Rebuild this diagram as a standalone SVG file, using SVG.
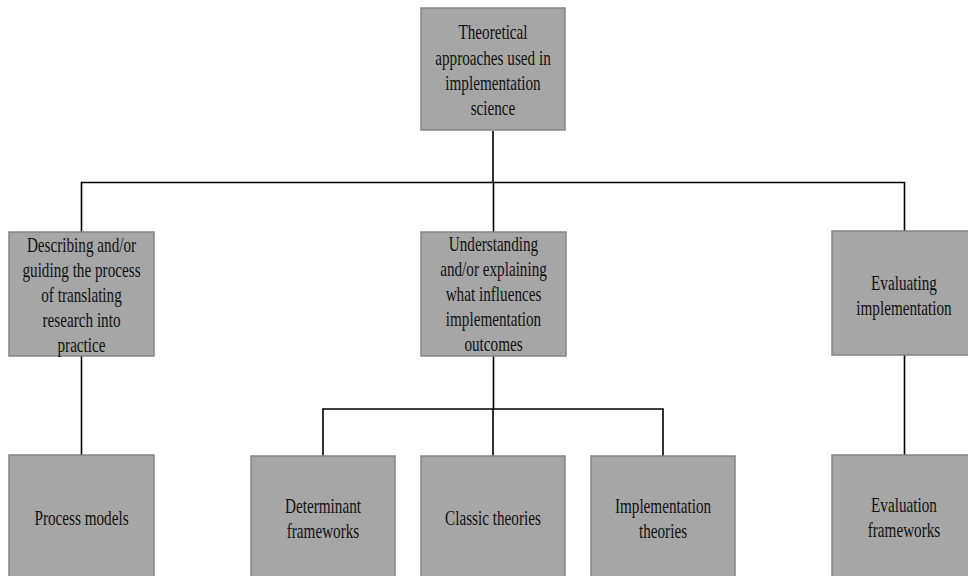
<svg xmlns="http://www.w3.org/2000/svg" width="968" height="576" viewBox="0 0 968 576">
  <style>
    .box { fill: #a6a6a6; stroke: #858585; stroke-width: 1.5; }
    .lbl { font-family: "Liberation Serif", "Times New Roman", "DejaVu Serif", serif; font-size: 20px; fill: #111111; text-anchor: middle; }
    .wire { fill: none; stroke: #000; stroke-width: 1.6; }
  </style>
  <rect width="968" height="576" fill="#ffffff"/>

  <!-- connectors -->
  <g id="connectors">
    <path class="wire" d="M493,131 V182.5"/>
    <path class="wire" d="M81.5,232 V182.5 H904.5 V231"/>
    <path class="wire" d="M493.5,182.5 V232"/>
    <path class="wire" d="M81.5,356 V455"/>
    <path class="wire" d="M493.5,356 V409 M323,456 V409 H663 V456 M493,409 V456"/>
    <path class="wire" d="M904.5,355 V455"/>
  </g>

  <!-- root -->
  <g id="root">
    <rect class="box" x="421" y="8" width="144" height="122"/>
    <g transform="translate(493,0) scale(0.76,1)">
      <text class="lbl" x="0" y="39">Theoretical</text>
      <text class="lbl" x="0" y="65">approaches used in</text>
      <text class="lbl" x="0" y="90">implementation</text>
      <text class="lbl" x="0" y="115">science</text>
    </g>
  </g>

  <!-- second level -->
  <g id="describing">
    <rect class="box" x="9" y="232" width="145" height="124"/>
    <g transform="translate(81.5,0) scale(0.76,1)">
      <text class="lbl" x="0" y="252">Describing and/or</text>
      <text class="lbl" x="0" y="277">guiding the process</text>
      <text class="lbl" x="0" y="302">of translating</text>
      <text class="lbl" x="0" y="327">research into</text>
      <text class="lbl" x="0" y="352">practice</text>
    </g>
  </g>

  <g id="understanding">
    <rect class="box" x="421" y="232" width="145" height="124"/>
    <g transform="translate(493.5,0) scale(0.76,1)">
      <text class="lbl" x="0" y="251">Understanding</text>
      <text class="lbl" x="0" y="276">and/or explaining</text>
      <text class="lbl" x="0" y="301">what influences</text>
      <text class="lbl" x="0" y="326">implementation</text>
      <text class="lbl" x="0" y="351">outcomes</text>
    </g>
  </g>

  <g id="evaluating">
    <rect class="box" x="832" y="231" width="145" height="124"/>
    <g transform="translate(904,0) scale(0.76,1)">
      <text class="lbl" x="0" y="290">Evaluating</text>
      <text class="lbl" x="0" y="315">implementation</text>
    </g>
  </g>

  <!-- third level -->
  <g id="process-models">
    <rect class="box" x="9" y="455" width="145" height="130"/>
    <g transform="translate(81.5,0) scale(0.76,1)">
      <text class="lbl" x="0" y="525">Process models</text>
    </g>
  </g>

  <g id="determinant-frameworks">
    <rect class="box" x="251" y="456" width="144" height="130"/>
    <g transform="translate(323,0) scale(0.76,1)">
      <text class="lbl" x="0" y="513">Determinant</text>
      <text class="lbl" x="0" y="538">frameworks</text>
    </g>
  </g>

  <g id="classic-theories">
    <rect class="box" x="421" y="456" width="144" height="130"/>
    <g transform="translate(493,0) scale(0.76,1)">
      <text class="lbl" x="0" y="525">Classic theories</text>
    </g>
  </g>

  <g id="implementation-theories">
    <rect class="box" x="591" y="456" width="144" height="130"/>
    <g transform="translate(663,0) scale(0.76,1)">
      <text class="lbl" x="0" y="513">Implementation</text>
      <text class="lbl" x="0" y="538">theories</text>
    </g>
  </g>

  <g id="evaluation-frameworks">
    <rect class="box" x="832" y="455" width="145" height="130"/>
    <g transform="translate(904,0) scale(0.76,1)">
      <text class="lbl" x="0" y="512">Evaluation</text>
      <text class="lbl" x="0" y="537">frameworks</text>
    </g>
  </g>
</svg>
